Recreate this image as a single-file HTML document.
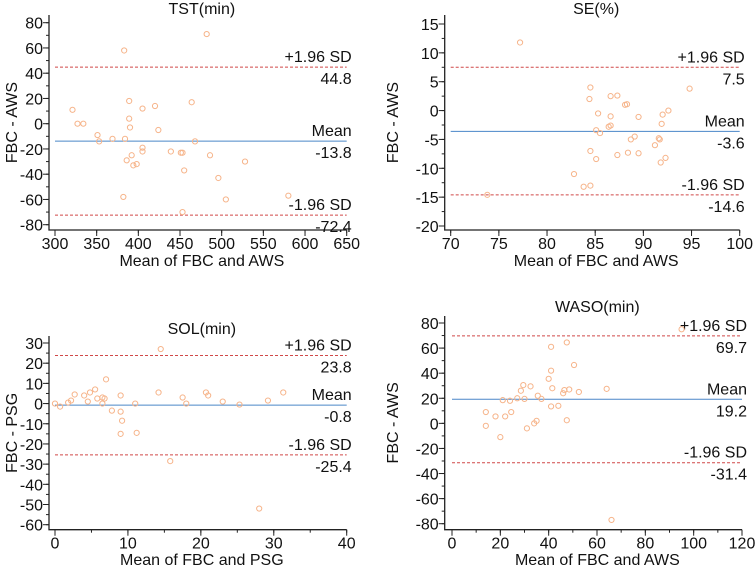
<!DOCTYPE html>
<html><head><meta charset="utf-8"><style>
html,body{margin:0;padding:0;background:#fff}
svg{display:block}
text{font-family:"Liberation Sans",Arial,sans-serif;fill:#111}
</style></head><body>
<svg id="chart" width="756" height="566" viewBox="0 0 756 566" xmlns="http://www.w3.org/2000/svg"></svg>
<script>
// ---- data ----
const tstX = [321,327,334,351,353,369,383,382,384,386,389,389,390,392,394,398,405,405,405,420,424,439,451,453,453,455,464,468,482,486,496,505,528,580];
const tstY = [11,0,0,-9,-14,-12,58,-58,-12,-29,18,4,-3,-25,-33,-32,12,-19,-22,14,-5,-22,-23,-70,-23,-37,17,-14,71,-25,-43,-60,-30,-57];
const tstStats = [44.8,-13.8,-72.4];
const seX = [77.2,73.8,84.5,84.4,84.5,84.5,83.8,82.8,85.3,85.1,85.5,85.1,86.6,87.3,86.4,86.6,86.6,87.3,88.1,88.3,88.4,88.7,89.1,89.5,89.5,91.2,91.6,91.7,91.9,92,92.6,91.8,92.3,94.8];
const seY = [11.8,-14.6,4,2,-7,-13,-13.2,-11,-0.5,-3.4,-3.9,-8.4,2.5,2.6,-2.8,-2.6,-1,-7.7,1,1.1,-7.3,-5,-4.5,-1.1,-7.4,-6,-4.8,-5,-2.3,-0.7,0,-9,-8.2,3.8];
const seStats = [7.5,-3.6,-14.6];
const solX = [0,0.7,1.8,2.2,2.7,4,4.5,4.8,5.5,5.8,6.5,6.5,6.8,7,7.8,9,9,9,9.2,11,11.2,14.2,14.5,15.8,17.5,18,20.7,21,23,25.3,28,29.2,31.3];
const solY = [0,-1.5,0.5,1.5,4.5,4,1,5.5,7,2.5,0,3,2.5,12,-3.5,4,-4,-15,-8.5,0,-14.5,5.5,27,-28.5,3,0,5.5,4,1,-0.5,-52,1.5,5.5];
const solStats = [23.8,-0.8,-25.4];
const wasoX = [14,14,18,20,21,22,24,24.5,27,28.5,29.5,30,31,32.5,34,35,35.5,37,40,41,41,41,41.5,44,46,46.5,47.5,47.5,48.5,50.5,52.5,64,66,95];
const wasoY = [9,-2,5.5,-11,18.5,5.5,18,9,20,26,30.5,19.5,-4,29.5,0,2,22,19.5,35.5,61,42,13.5,28,14,24,26.5,64.5,2.5,27,46.5,25,27.5,-77,75];
const wasoStats = [69.7,19.2,-31.4];
const tstXTicks = [300,350,400,450,500,550,600,650];
const tstYTicks = [80,60,40,20,0,-20,-40,-60,-80];
const seXTicks = [70,75,80,85,90,95,100];
const seYTicks = [15,10,5,0,-5,-10,-15,-20];
const solXTicks = [0,10,20,30,40];
const solYTicks = [30,20,10,0,-10,-20,-30,-40,-50,-60];
const wasoXTicks = [0,20,40,60,80,100,120];
const wasoYTicks = [80,60,40,20,0,-20,-40,-60,-80];

const NS="http://www.w3.org/2000/svg";
const svg=document.getElementById('chart');
function mk(tag,attrs,parent){const e=document.createElementNS(NS,tag);for(const k in attrs)e.setAttribute(k,attrs[k]);(parent||svg).appendChild(e);return e;}
const FS='16';

const panels=[
 {key:'tst',title:'TST(min)',ylab:'FBC - AWS',xlab:'Mean of FBC and AWS',xs:tstX,ys:tstY,st:tstStats,xt:tstXTicks,yt:tstYTicks,
  x0:300,x1:650,px0:55,px1:346.7,y0:80,y1:-80,py0:22.7,py1:224.7,spX:49,spY:230,top:15,xMinor:50,yMinor:10,titleY:14,xlabY:266,ylabX:17},
 {key:'se',title:'SE(%)',ylab:'FBC - AWS',xlab:'Mean of FBC and AWS',xs:seX,ys:seY,st:seStats,xt:seXTicks,yt:seYTicks,
  x0:70,x1:100,px0:450.7,px1:739.7,y0:15,y1:-20,py0:24,py1:226,spX:444.7,spY:230,top:15,xMinor:5,yMinor:2.5,titleY:14,xlabY:266,ylabX:398},
 {key:'sol',title:'SOL(min)',ylab:'FBC - PSG',xlab:'Mean of FBC and PSG',xs:solX,ys:solY,st:solStats,xt:solXTicks,yt:solYTicks,
  x0:0,x1:40,px0:55,px1:346.7,y0:30,y1:-60,py0:343,py1:524.7,spX:49,spY:529.7,top:336,xMinor:5,yMinor:5,titleY:334,xlabY:565,ylabX:17},
 {key:'waso',title:'WASO(min)',ylab:'FBC - AWS',xlab:'Mean of FBC and AWS',xs:wasoX,ys:wasoY,st:wasoStats,xt:wasoXTicks,yt:wasoYTicks,
  x0:0,x1:120,px0:452,px1:742,y0:80,y1:-80,py0:323,py1:523.7,spX:444.7,spY:529.7,top:316,xMinor:10,yMinor:10,titleY:312,xlabY:565,ylabX:398}
];

panels.forEach(p=>{
  const g=mk('g',{});
  
  
  const sx=v=>p.px0+(v-p.x0)/(p.x1-p.x0)*(p.px1-p.px0);
  const sy=v=>p.py0+(v-p.y0)/(p.y1-p.y0)*(p.py1-p.py0);
  const right=p.px1;
  const ttl=mk('text',{x:(p.spX+right)/2+4,y:p.titleY,'text-anchor':'middle','font-size':FS},g);ttl.textContent=p.title;
  
  const ax=mk('path',{d:`M${p.spX},${p.top}V${p.spY}H${right}`,stroke:'#222','stroke-width':'1.3',fill:'none'},g);
  
  const ymin=Math.min(...p.yt),ymax=Math.max(...p.yt);
  for(let v=ymin;v<=ymax+1e-9;v+=p.yMinor){mk('line',{x1:p.spX-3,x2:p.spX,y1:sy(v),y2:sy(v),stroke:'#222','stroke-width':'1'},g);}
  p.yt.forEach(v=>{
    mk('line',{x1:p.spX-6,x2:p.spX,y1:sy(v),y2:sy(v),stroke:'#222','stroke-width':'1'},g);
    const t=mk('text',{x:p.spX-6,y:sy(v)+6,'text-anchor':'end','font-size':FS},g);t.textContent=v;
    
  });
  const xmin=Math.min(...p.xt),xmax=Math.max(...p.xt);
  for(let v=xmin;v<=xmax+1e-9;v+=p.xMinor){mk('line',{x1:sx(v),x2:sx(v),y1:p.spY,y2:p.spY+3,stroke:'#222','stroke-width':'1'},g);}
  p.xt.forEach(v=>{
    mk('line',{x1:sx(v),x2:sx(v),y1:p.spY,y2:p.spY+6,stroke:'#222','stroke-width':'1'},g);
    const t=mk('text',{x:sx(v),y:p.spY+19,'text-anchor':'middle','font-size':FS},g);t.textContent=v;
    
  });
  const xl=mk('text',{x:(p.spX+right)/2+4,y:p.xlabY,'text-anchor':'middle','font-size':FS},g);xl.textContent=p.xlab;
  
  const cy=(p.top+p.spY)/2;
  const yl=mk('text',{x:p.ylabX,y:cy,'text-anchor':'middle','font-size':FS,transform:`rotate(-90 ${p.ylabX} ${cy})`},g);yl.textContent=p.ylab;
  
  const names=['upper-loa','mean','lower-loa'],tops=['+1.96 SD','Mean','-1.96 SD'];
  p.st.forEach((v,i)=>{
    const ln=mk('line',{x1:p.px0,x2:right,y1:sy(v),y2:sy(v),stroke:i==1?'#4a86c8':'#d04848','stroke-width':'1','stroke-dasharray':i==1?'':'3,2'},g);
    
    const a=mk('text',{x:right+5,y:sy(v)-5,'text-anchor':'end','font-size':FS},g);a.textContent=tops[i];
    
    const b=mk('text',{x:right+5,y:sy(v)+17,'text-anchor':'end','font-size':FS},g);b.textContent=v.toFixed(1);
    
  });
  p.xs.forEach((x,i)=>{
    const c=mk('circle',{cx:sx(x),cy:sy(p.ys[i]),r:2.6,fill:'none',stroke:'#f6b48a','stroke-width':'1'},g);
    
    
  });
});
</script>
</body></html>
